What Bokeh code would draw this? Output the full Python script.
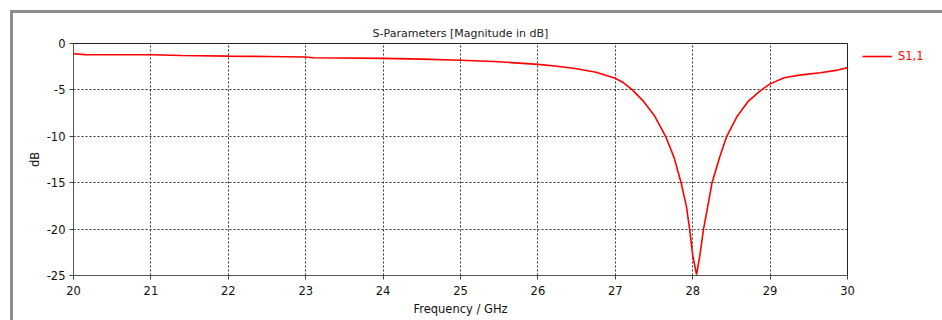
from bokeh.plotting import figure
from bokeh.models import Legend, LegendItem, FixedTicker, ColumnDataSource, PrintfTickFormatter
from bokeh.embed import file_html
from bokeh.resources import INLINE

# S1,1 magnitude in dB vs frequency (GHz)
freq = [20.0, 20.15, 21.0, 21.4, 22.0, 22.5, 23.0, 23.1, 24.0, 24.5, 25.0, 25.5,
        26.0, 26.25, 26.5, 26.75, 27.0, 27.1, 27.22, 27.35, 27.5, 27.65, 27.76, 27.85,
        27.92, 27.96, 28.0, 28.05, 28.09, 28.14, 28.2, 28.25, 28.35, 28.44,
        28.57, 28.72, 28.88, 29.0, 29.18, 29.4, 29.65, 29.85, 30.0]
s11_db = [-1.1, -1.2, -1.22, -1.3, -1.36, -1.4, -1.45, -1.54, -1.6, -1.68, -1.8, -1.97,
          -2.25, -2.45, -2.72, -3.1, -3.75, -4.2, -5.0, -6.1, -7.7, -10.0, -12.3, -15.0,
          -17.6, -20.0, -22.8, -24.9, -23.0, -20.0, -17.3, -15.0, -12.2, -10.0,
          -7.9, -6.2, -5.05, -4.35, -3.7, -3.38, -3.15, -2.9, -2.6]
x_ticks = [20, 21, 22, 23, 24, 25, 26, 27, 28, 29, 30]
y_ticks = [0, -5, -10, -15, -20, -25]

FONT = "DejaVu Sans"

src = ColumnDataSource(dict(f=freq, s=s11_db))

p = figure(frame_width=774, frame_height=232, output_backend="svg", toolbar_location=None,
           x_range=(20, 30), y_range=(-25, 0),
           title="S-Parameters [Magnitude in dB]",
           min_border_left=60, min_border_right=95, min_border_top=30, min_border_bottom=45)
p.styles = {"margin-left": "10px", "margin-top": "10px",
            "border-left": "3px solid #8c8c8c", "border-top": "3px solid #8c8c8c"}
p.background_fill_color = "white"
p.border_fill_color = "white"
p.outline_line_color = "#222222"
p.outline_line_width = 1

p.title.align = "center"
p.title.text_font = FONT
p.title.text_font_size = "11px"
p.title.text_font_style = "normal"
p.title.text_color = "#222222"
p.title.standoff = 8

for ax in (p.xaxis[0], p.yaxis[0]):
    ax.major_label_text_font = FONT
    ax.major_label_text_font_size = "11.5px"
    ax.major_label_text_color = "#111111"
    ax.axis_label_text_font = FONT
    ax.axis_label_text_font_size = "11.5px"
    ax.axis_label_text_font_style = "normal"
    ax.axis_label_text_color = "#111111"
    ax.axis_line_color = "#555555"
    ax.major_tick_line_color = "#444444"
    ax.major_tick_out = 4
    ax.major_tick_in = 0
    ax.minor_tick_line_color = None
    ax.formatter = PrintfTickFormatter(format="%d")

p.xaxis.ticker = FixedTicker(ticks=x_ticks)
p.yaxis.ticker = FixedTicker(ticks=y_ticks)
p.xaxis.axis_label = "Frequency / GHz"
p.yaxis.axis_label = "dB"
p.xaxis.major_label_standoff = 6
p.xaxis.axis_label_standoff = 4
p.yaxis.major_label_standoff = 4
p.yaxis.axis_label_standoff = 2

for g in (p.xgrid[0], p.ygrid[0]):
    g.grid_line_color = "#333333"
    g.grid_line_dash = "2 2"
    g.grid_line_width = 1

r = p.line("f", "s", source=src, line_color="#ff0000", line_width=1.6)

legend = Legend(items=[LegendItem(label="S1,1", renderers=[r])],
                location=(15, 206), padding=0, margin=0, spacing=0,
                glyph_width=30, glyph_height=26, label_height=26, label_standoff=6,
                label_text_font=FONT, label_text_font_size="11.5px",
                label_text_color="#ff0000",
                border_line_color=None, background_fill_alpha=0)
p.add_layout(legend, "right")

open("out.html", "w").write(file_html(p, INLINE))
